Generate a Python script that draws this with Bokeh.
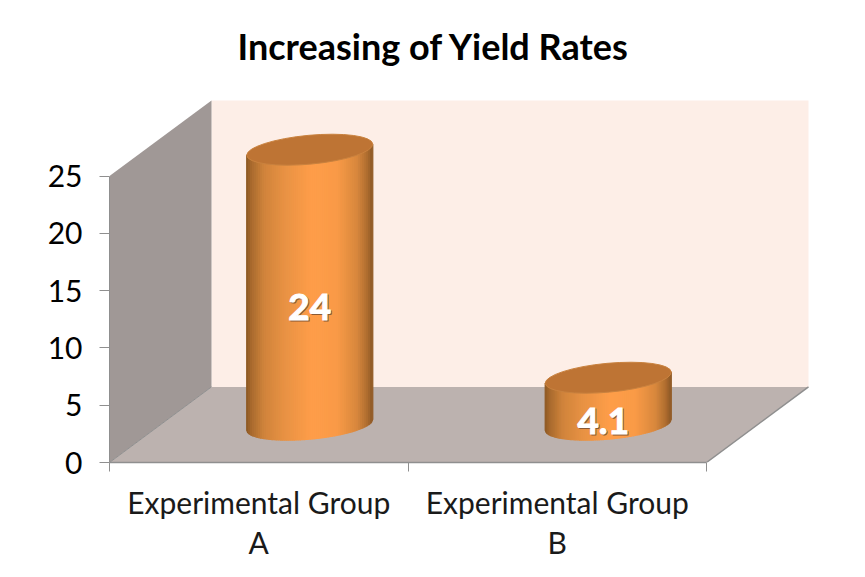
from bokeh.plotting import figure
from bokeh.models import Range1d, FixedTicker, LinearAxis
from bokeh.core.properties import value
from bokeh.embed import file_html
from bokeh.resources import INLINE
import numpy as np

categories = ["Experimental Group\nA", "Experimental Group\nB"]
values = [24, 4.1]
value_labels = ["24", "4.1"]
y_ticks = [0, 5, 10, 15, 20, 25]
title_text = "Increasing of Yield Rates"

FONT = "Lato"
Y_MAX = 25
PX_X = 298.5      # pixels per category
PX_Y = 11.52      # pixels per value unit
DX = 102 / PX_X   # oblique depth offset, in x units
DY = 76 / PX_Y    # oblique depth offset, in y units
N = len(categories)

p = figure(width=857, height=569, output_backend="svg", toolbar_location=None,
           x_range=Range1d(0, 710 / PX_X), y_range=Range1d(0, 372 / PX_Y),
           x_axis_type=None, y_axis_type=None,
           min_border_left=109, min_border_right=38, min_border_bottom=107, min_border_top=90)
p.grid.visible = False
p.outline_line_color = None
p.background_fill_color = None
p.border_fill_color = "white"

p.title.text = title_text
p.title.text_font = FONT
p.title.text_font_size = "36px"
p.title.text_font_style = "bold"
p.title.text_color = "black"
p.title.align = "left"
p.title.offset = 116
p.title.vertical_align = "top"
p.title.padding = 12
p.title.standoff = 22

GRAY = "#8f8f8f"
# walls and floor
p.patch([DX, N + DX, N + DX, DX], [DY, DY, Y_MAX + DY, Y_MAX + DY], fill_color="#FDEEE7", line_color=None)
p.patch([0, DX, DX, 0], [0, DY, Y_MAX + DY, Y_MAX], fill_color="#A09896", line_color=None)
p.patch([0, N, N + DX, DX], [0, 0, DY, DY], fill_color="#BCB2AF", line_color=None)
p.line([N, N + DX], [0, DY], line_color=GRAY, line_width=1.5)
p.line([0, DX], [0, DY], line_color=GRAY, line_width=1)

# cylinders: tilted ellipse described in screen pixels
SXX, SXY, SYY = 3969.0, 346.0, 240.0
ANGLE = 0.5 * np.arctan2(2 * SXY, SXX - SYY)
EVEN = np.sqrt((SXX - SYY) ** 2 + 4 * SXY ** 2)
MAJOR = 2 * np.sqrt((SXX + SYY + EVEN) / 2)
MINOR = 2 * np.sqrt((SXX + SYY - EVEN) / 2)
STOPS_T = [0.0, 0.04, 0.14, 0.30, 0.52, 0.72, 0.88, 0.96, 1.0]
STOPS_C = [(0x8C, 0x58, 0x24), (0xA8, 0x6A, 0x2E), (0xD0, 0x84, 0x3C), (0xE8, 0x92, 0x44),
           (0xFF, 0x9E, 0x4A), (0xFA, 0x9B, 0x48), (0xD8, 0x88, 0x3E), (0xB0, 0x6E, 0x30), (0x8E, 0x5A, 0x28)]
STRIPS = 63
half = np.sqrt(SXX)
det = SXX * SYY - SXY ** 2

def lower(dx):
    return SXY / SXX * dx - np.sqrt(np.maximum(det / SXX * (1 - dx * dx / SXX), 0))

for i, v in enumerate(values):
    cx = i + 0.5 + DX / 2
    base = DY / 2
    xs, ys, cs = [], [], []
    edges = np.linspace(-half, half, STRIPS + 1)
    for a, b in zip(edges[:-1], edges[1:]):
        grid = np.linspace(a, b, 3)
        sx = list(cx + grid / PX_X)
        sy = list(base + lower(grid) / PX_Y)
        tops = base + v + (SXY / SXX) * grid[::-1] / PX_Y
        xs.append(sx + list(cx + grid[::-1] / PX_X))
        ys.append(sy + list(tops))
        t = (0.5 * (a + b) + half) / (2 * half)
        rgb = [int(np.interp(t, STOPS_T, [c[k] for c in STOPS_C])) for k in range(3)]
        cs.append("#%02x%02x%02x" % tuple(rgb))
    p.patches(xs, ys, fill_color=cs, line_color=cs, line_width=1.3)
    p.ellipse([cx], [base + v], width=MAJOR, height=MINOR, angle=ANGLE,
              width_units="screen", height_units="screen",
              fill_color="#BE7434", line_color="#C9823F", line_width=1)
    lx = cx - (0 if i == 0 else 5 / PX_X)
    ly = base + v / 2 - 1.75
    p.text([lx], [ly], text=[value_labels[i]], x_offset=1, y_offset=1,
           text_font=value(FONT), text_font_size="37px", text_font_style="bold",
           text_color="#8A5A34", text_align="center", text_baseline="middle",
           text_outline_color="#8A5A34")
    p.text([lx], [ly], text=[value_labels[i]],
           text_font=value(FONT), text_font_size="37px", text_font_style="bold",
           text_color="white", text_align="center", text_baseline="middle",
           text_outline_color="white")

# axes
yax = LinearAxis(ticker=FixedTicker(ticks=y_ticks), bounds=(0, Y_MAX))
yax.axis_line_color = GRAY
yax.major_tick_line_color = GRAY
yax.major_tick_in = 0
yax.major_tick_out = 10
yax.minor_tick_line_color = None
yax.major_label_text_font = FONT
yax.major_label_text_font_size = "30px"
yax.major_label_text_color = "black"
yax.major_label_standoff = 17
p.add_layout(yax, "left")

cat_pos = [i + 0.5 for i in range(N)]
xax = LinearAxis(ticker=FixedTicker(ticks=cat_pos, minor_ticks=list(range(N + 1))), bounds=(0, N))
xax.major_label_overrides = {c: t for c, t in zip(cat_pos, categories)}
xax.axis_line_color = GRAY
xax.axis_line_width = 1.5
xax.major_tick_line_color = None
xax.minor_tick_line_color = GRAY
xax.minor_tick_in = 0
xax.minor_tick_out = 9
xax.major_tick_out = 0
xax.major_tick_in = 0
xax.major_label_text_font = FONT
xax.major_label_text_font_size = "30px"
xax.major_label_text_color = "#1a1a1a"
xax.major_label_text_line_height = 1.13
xax.major_label_standoff = 12
xax.major_label_orientation = "horizontal"
p.add_layout(xax, "below")

open("out.html", "w").write(file_html(p, INLINE))
